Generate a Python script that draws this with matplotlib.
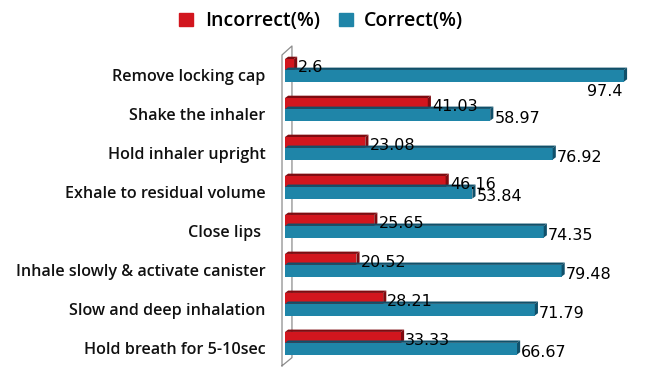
import matplotlib
matplotlib.use('Agg')
import matplotlib.pyplot as plt
from matplotlib.patches import Polygon, Patch

steps = ['Remove locking cap', 'Shake the inhaler', 'Hold inhaler upright',
         'Exhale to residual volume', 'Close lips ', 'Inhale slowly & activate canister',
         'Slow and deep inhalation', 'Hold breath for 5-10sec']
incorrect = [2.6, 41.03, 23.08, 46.16, 25.65, 20.52, 28.21, 33.33]
correct = [97.4, 58.97, 76.92, 53.84, 74.35, 79.48, 71.79, 66.67]

red, red_dark = '#d2161e', '#7e0b10'
blue, blue_dark = '#1f85a8', '#10506a'

plt.rcParams['font.family'] = ['Open Sans', 'DejaVu Sans']

fig = plt.figure(figsize=(6.52, 3.83), dpi=100)
ax = fig.add_axes([285/652, 1-367/383, 348/652, 322/383])
ax.set_xlim(0, 100)
ax.set_ylim(7.62, -0.64)

h_red, h_blue = 0.28, 0.30
dx, dy = 0.9, 0.06  # fake depth


def bar3d(y, v, h, col, dark):
    top = y - h/2
    ax.barh(y, v, height=h, color=col, zorder=3)
    # top face
    ax.add_patch(Polygon([(0, top), (v, top), (v+dx, top-dy), (dx, top-dy)],
                         closed=True, color=dark, zorder=3, lw=0))
    # end cap
    ax.add_patch(Polygon([(v, top), (v, top+h), (v+dx, top+h-dy), (v+dx, top-dy)],
                         closed=True, color=dark, zorder=3, lw=0))


num_font = {'family': 'DejaVu Sans', 'size': 11.5}
for i in range(len(steps)):
    yr = i - h_red/2
    yb = i + h_blue/2
    bar3d(yr, incorrect[i], h_red, red, red_dark)
    bar3d(yb, correct[i], h_blue, blue, blue_dark)
    ax.text(incorrect[i] + 1.2, yr + 0.08, '{:g}'.format(incorrect[i]),
            va='center', ha='left', fontdict=num_font, zorder=4)
    if correct[i] > 90:
        ax.text(correct[i] - 0.3, yb + 0.40, '{:g}'.format(correct[i]),
                va='center', ha='right', fontdict=num_font, zorder=4)
    else:
        ax.text(correct[i] + 1.2, yb + 0.10, '{:g}'.format(correct[i]),
                va='center', ha='left', fontdict=num_font, zorder=4)

# wall
wc = '#8c8c8c'
ax.plot([-0.86, -0.86, 2.0, 2.0, -0.86], [7.59, -0.385, -0.615, 7.38, 7.59],
        color=wc, lw=0.9, clip_on=False, zorder=1)

for s in ax.spines.values():
    s.set_visible(False)
ax.set_xticks([])
ax.set_yticks([i + 0.12 for i in range(len(steps))])
ax.set_yticklabels(steps, fontsize=11.6, fontweight='semibold', color='#111111')
ax.tick_params(axis='y', length=0, pad=14)

handles = [Patch(color=red), Patch(color=blue)]
fig.legend(handles, ['Incorrect(%)', 'Correct(%)'], loc='center', ncol=2,
           bbox_to_anchor=(0.493, 0.944), frameon=False, handlelength=0.7,
           handleheight=0.7, handletextpad=0.6, columnspacing=1.0,
           prop={'size': 14, 'weight': 'semibold'})

fig.savefig('out.png', dpi=100)
